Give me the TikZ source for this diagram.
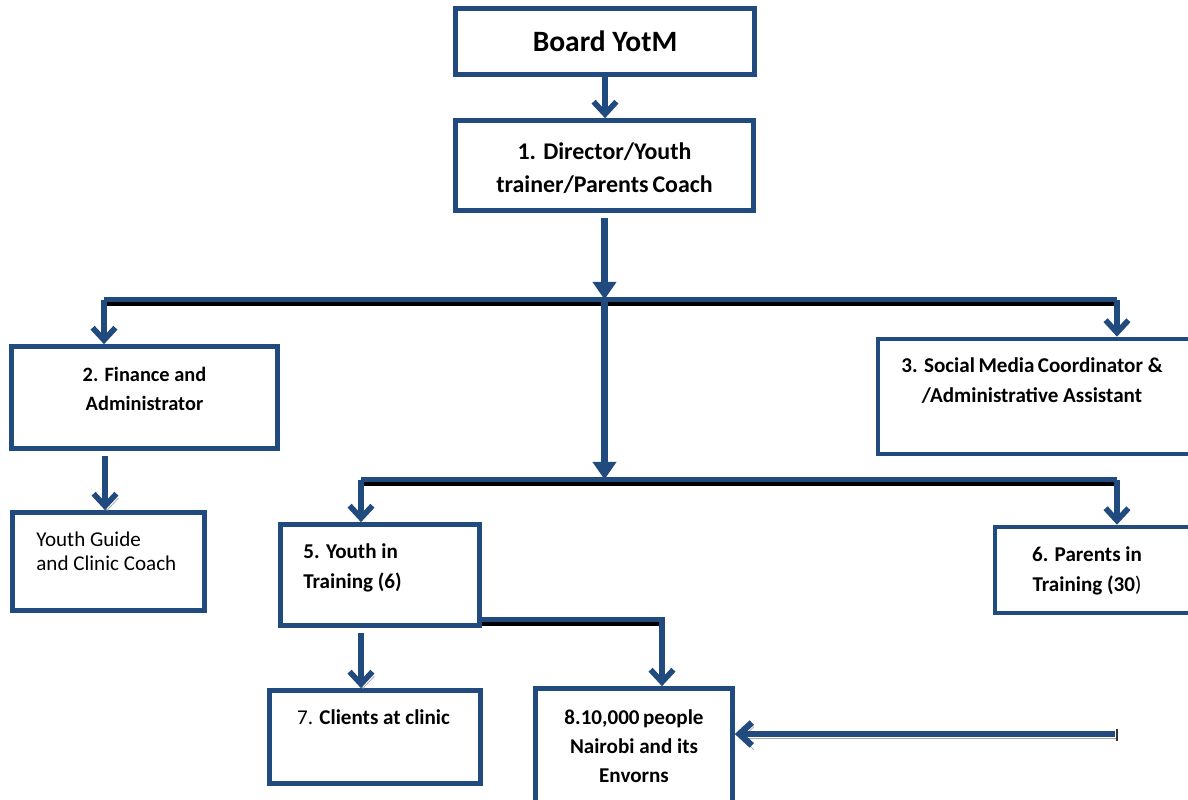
\documentclass[tikz,border=0pt]{standalone}
\usepackage{fontspec}
\setmainfont{Carlito}
\usetikzlibrary{arrows.meta,positioning}
\definecolor{orgBlue}{RGB}{33,74,126}
\tikzset{
orgBox/.style={
	rectangle, draw=orgBlue, line width=2.7pt,
	inner sep=0pt, fill=white
}
, orgText/.style={
	inner sep=0pt, align=center, text=black,
	font=\bfseries\fontsize{12}{17.5}\selectfont
}
% links
, orgLink/.style={draw=orgBlue, line width=3.2pt,
	-{Straight Barb[length=7pt,width=13pt]}}
, orgTrunk/.style={draw=orgBlue, line width=4pt,
	-{Triangle[length=10pt,width=13pt]}}
, orgShadow/.style={preaction={draw=gray!70,
	transform canvas={shift={(1.2pt,-2.4pt)}}}}
, busBlue/.style={draw=orgBlue, line width=3pt}
, busBlack/.style={draw=black, line width=2.4pt,
	transform canvas={yshift=-2.6pt}}
}
\begin{document}
\begin{tikzpicture}[x=0.02cm,y=-0.02cm]
	\useasboundingbox (0,0) rectangle (1188,799);
	% boxes
	\node[orgBox, minimum width=5.98cm, minimum height=1.32cm] (board) at (605,41.5) {};
	\node[orgBox, minimum width=5.96cm, minimum height=1.8cm] (dir) at (604.5,165.5) {};
	\node[orgBox, minimum width=5.32cm, minimum height=2.04cm] (fin) at (144.5,397.5) {};
	\node[orgBox, minimum width=6.28cm, minimum height=2.3cm] (soc) at (1035,396.5) {};
	\node[orgBox, minimum width=3.84cm, minimum height=1.96cm] (guide) at (108.5,561.5) {};
	\node[orgBox, minimum width=3.98cm, minimum height=2.02cm] (yout) at (380,575) {};
	\node[orgBox, minimum width=3.94cm, minimum height=1.72cm] (par) at (1093.5,570) {};
	\node[orgBox, minimum width=4.22cm, minimum height=1.86cm] (cli) at (375,737) {};
	\node[orgBox, minimum width=3.94cm, minimum height=2.42cm] (ppl) at (634,749) {};
	% texts
	\node[orgText, font=\bfseries\fontsize{16.8}{19}\selectfont] (boardT) at (board.center) {Board YotM};
	\node[orgText, anchor=north, font=\bfseries\fontsize{13.6}{18.8}\selectfont] (dirT) at (604.5,142) {1. Director/Youth\\trainer/Parents\,Coach};
	\node[orgText, anchor=north, font=\bfseries\fontsize{11.6}{16.5}\selectfont] (finT) at (144.5,367) {2. Finance and\\Administrator};
	\node[orgText, anchor=north, font=\bfseries\fontsize{12}{17.5}\selectfont] (socT) at (1032,357) {3. Social\,Media\,Coordinator \&\\/Administrative Assistant};
	\node[orgText, anchor=north west, align=left, font=\fontsize{12}{14.2}\selectfont] (guideT) at (36,531) {Youth Guide\\and Clinic Coach};
	\node[orgText, anchor=north west, align=left] (youtT) at (303,543) {5. Youth in\\Training (6)};
	\node[orgText, anchor=north] (parT) at (1087,546) {6. Parents in\\Training (30\mdseries)};
	\node[orgText, anchor=north] (cliT) at (373.5,709) {\mdseries 7. \bfseries Clients at clinic};
	\node[orgText, anchor=north, font=\bfseries\fontsize{12}{16.5}\selectfont] (pplT) at (634,709) {8.10,000\,people\\Nairobi and its\\Envorns};
	% bus points
	\coordinate (bus1L) at (104,299.5);
	\coordinate (bus1R) at (1117,299.5);
	\coordinate (bus2L) at (361,479.5);
	\coordinate (bus2R) at (1117,479.5);
	\coordinate (ytR) at (662,619.5);
	\coordinate (ytB) at (361,633);
	\coordinate (finB) at (105,456);
	\coordinate (pplIn) at (1115,734);
	% bus lines
	\draw[busBlack] (bus1L) -- (bus1R);
	\draw[busBlue] (bus1L) -- (bus1R);
	\draw[busBlack] (bus2L) -- (bus2R);
	\draw[busBlue] (bus2L) -- (bus2R);
	\draw[busBlack] (yout.east |- ytR) -- (ytR);
	% links
	\draw[orgLink] (board.south) -- (board.south |- dir.north);
	\draw[orgTrunk] ([yshift=-3pt]dir.south) -- (dir.south |- bus1L);
	\draw[orgTrunk] (dir.south |- bus1L) -- (dir.south |- bus2L);
	\draw[orgLink] (bus1L) -- (bus1L |- fin.north);
	\draw[orgLink] (bus1R) -- (bus1R |- soc.north);
	\draw[orgLink] (bus2L) -- (bus2L |- yout.north);
	\draw[orgLink] (bus2R) -- (bus2R |- par.north);
	\draw[orgLink] (yout.east |- ytR) -- (ytR) -- (ytR |- ppl.north);
	\draw[orgLink, orgShadow] (finB) -- (finB |- guide.north);
	\draw[orgLink, orgShadow] (ytB) -- (ytB |- cli.north);
	\draw[orgLink, orgShadow, line width=3.6pt] (pplIn) -- (pplIn -| ppl.east);
	\draw[line width=0.8pt, black!80] ([yshift=3pt]pplIn -| 1117,0) -- ([yshift=-4pt]pplIn -| 1117,0);
\end{tikzpicture}
\end{document}
